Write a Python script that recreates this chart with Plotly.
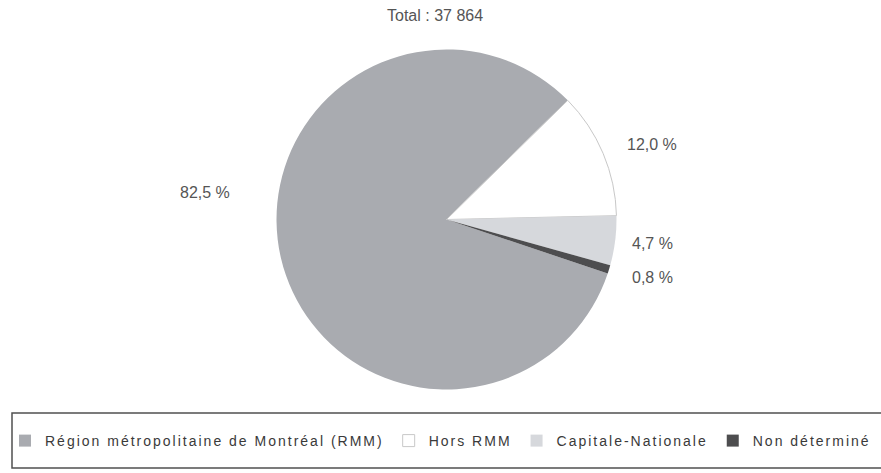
import plotly.graph_objects as go

categories = ["Région métropolitaine de Montréal (RMM)", "Hors RMM", "Capitale-Nationale", "Non déterminé"]
percentages = [82.5, 12.0, 4.7, 0.8]
pct_labels = ["82,5 %", "12,0 %", "4,7 %", "0,8 %"]
total_label = "Total : 37 864"

colors = ["#a9abb0", "#ffffff", "#d6d8dc", "#4d4d4f"]
line_colors = ["#a9abb0", "#c8c8c8", "#d6d8dc", "#4d4d4f"]
line_widths = [0, 1, 0, 0]

W, H = 881, 473
cx, cy, r = 446.5, 219.5, 170

legend_names = ['<span style="letter-spacing:2px">' + c + '</span>' for c in categories]

fig = go.Figure(go.Pie(
    labels=legend_names,
    values=percentages,
    sort=False,
    direction="clockwise",
    rotation=108.5,
    marker=dict(colors=colors, line=dict(color=line_colors, width=line_widths)),
    textinfo="none",
    hoverinfo="label+percent",
    domain=dict(x=[(cx - r) / W, (cx + r) / W], y=[(H - cy - r) / H, (H - cy + r) / H]),
))

# label positions (pixels) for the percentage labels
label_pos = [(205, 193), (652, 145), (652, 243), (652, 277)]
font = "Liberation Sans, Arial, sans-serif"
annotations = []
for txt, (px, py) in zip(pct_labels, label_pos):
    annotations.append(dict(x=px / W, y=1 - py / H, xref="paper", yref="paper",
                            text=txt, showarrow=False, xanchor="center", yanchor="middle",
                            font=dict(family=font, size=16, color="#555555")))
annotations.append(dict(x=435 / W, y=1 - 15 / H, xref="paper", yref="paper",
                        text=total_label, showarrow=False, xanchor="center", yanchor="middle",
                        font=dict(family=font, size=16, color="#555555")))

fig.update_layout(
    width=W, height=H,
    margin=dict(l=0, r=0, t=0, b=0, autoexpand=False),
    paper_bgcolor="white", plot_bgcolor="white",
    annotations=annotations,
    showlegend=True,
    legend=dict(orientation="h", x=5 / W, xanchor="left", y=1 - 441 / H, yanchor="middle",
                font=dict(family=font, size=14, color="#3a3a3a"),
                bgcolor="rgba(0,0,0,0)", traceorder="normal"),
    shapes=[dict(type="rect", xref="paper", yref="paper",
                 x0=12 / W, x1=1.01, y0=1 - 468 / H, y1=1 - 413 / H,
                 line=dict(color="#505050", width=1.5), fillcolor="rgba(0,0,0,0)")],
)

fig.write_html("out.html", config={"displayModeBar": False},
               post_script="document.body.style.margin='0';")
